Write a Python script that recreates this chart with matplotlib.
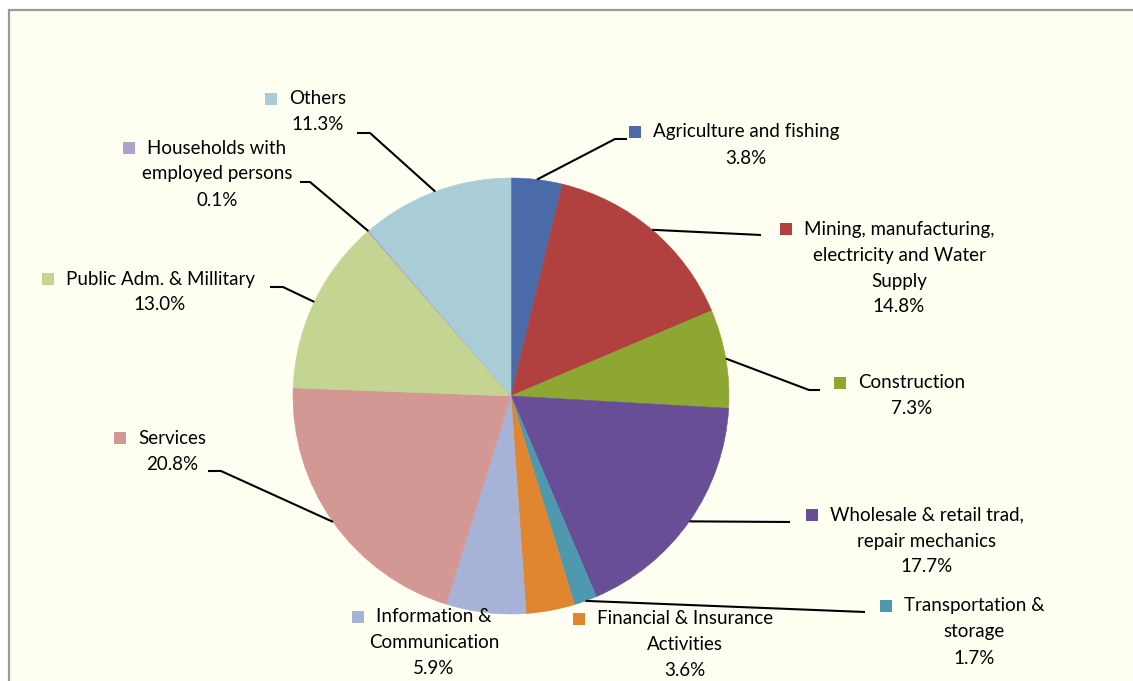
import matplotlib.pyplot as plt
import matplotlib.patches as mpatches
import numpy as np

W, H = 1133, 681

# data
sectors = ["Agriculture and fishing",
           "Mining, manufacturing,\nelectricity and Water\nSupply",
           "Construction",
           "Wholesale & retail trad,\nrepair mechanics",
           "Transportation &\nstorage",
           "Financial & Insurance\nActivities",
           "Information &\nCommunication",
           "Services",
           "Public Adm. & Millitary",
           "Households with\nemployed persons",
           "Others"]
shares = [3.8, 14.8, 7.3, 17.7, 1.7, 3.6, 5.9, 20.8, 13.0, 0.1, 11.3]
colors = ["#4A6AA8", "#B0413E", "#8EA733", "#674E97", "#4F99AF", "#E0862F",
          "#A6B2D6", "#D49894", "#C4D591", "#B1A0C7", "#A9CDD7"]

# label layout in pixels (text centre x, first line y) and leader elbows
label_pos = [(746, 132), (899, 229), (912, 383), (927, 515), (974, 606),
             (685, 619), (434, 617), (172, 438), (160, 279), (217, 148),
             (318, 99)]
elbows = [[(615, 139), (627, 139)],
          [(761, 235)],
          [(809, 390), (820, 390)],
          [(790, 522)],
          [(865, 612)],
          [],
          [],
          [(221, 471), (208, 471)],
          [(283, 287), (270, 287)],
          [(310, 182), (300, 182)],
          [(370, 133), (357, 133)]]


def py(y):
    return H - y


plt.rcParams['font.family'] = ['Lato', 'DejaVu Sans']

fig = plt.figure(figsize=(W / 100, H / 100), dpi=100, facecolor="white")
ax = fig.add_axes([0, 0, 1, 1])

cx, cy, r = 511, py(396), 218
wedges, _ = ax.pie(shares, colors=colors, startangle=90, counterclock=False,
                   center=(cx, cy), radius=r,
                   wedgeprops=dict(linewidth=0.4, edgecolor="none"))
for w, c in zip(wedges, colors):
    w.set_edgecolor(c)
    w.set_zorder(2)

ax.set_xlim(0, W)
ax.set_ylim(0, H)
ax.set_aspect("equal")
ax.axis("off")

# chart area background and border
bg = mpatches.Rectangle((9, py(700)), 1150, 690, facecolor="#FFFFF2",
                        edgecolor="#9A9A9A", linewidth=1.6, zorder=0)
ax.add_patch(bg)

fig.canvas.draw()
renderer = fig.canvas.get_renderer()

for w, name, v, col, (lx, ly), elb in zip(wedges, sectors, shares, colors,
                                           label_pos, elbows):
    # leader line
    if elb:
        mid = np.deg2rad((w.theta1 + w.theta2) / 2)
        xs = [cx + r * np.cos(mid)] + [e[0] for e in elb]
        ys = [cy + r * np.sin(mid)] + [py(e[1]) for e in elb]
        ax.plot(xs, ys, color="black", lw=1.5, zorder=3,
                solid_capstyle="butt")
    lines = name.split("\n") + [f"{v:.1f}%"]
    first = None
    for i, t in enumerate(lines):
        txt = ax.text(lx, py(ly + 26 * i), t, ha="center", va="center",
                      fontsize=13.5, color="black", zorder=4)
        if i == 0:
            first = txt
    bb = first.get_window_extent(renderer)
    left = bb.x0  # pixel coords match data coords here
    ax.add_patch(mpatches.Rectangle((left - 24, py(ly) - 6), 12, 12,
                                    facecolor=col, edgecolor="none", zorder=4))

fig.savefig("out.png", dpi=100, facecolor="white")
